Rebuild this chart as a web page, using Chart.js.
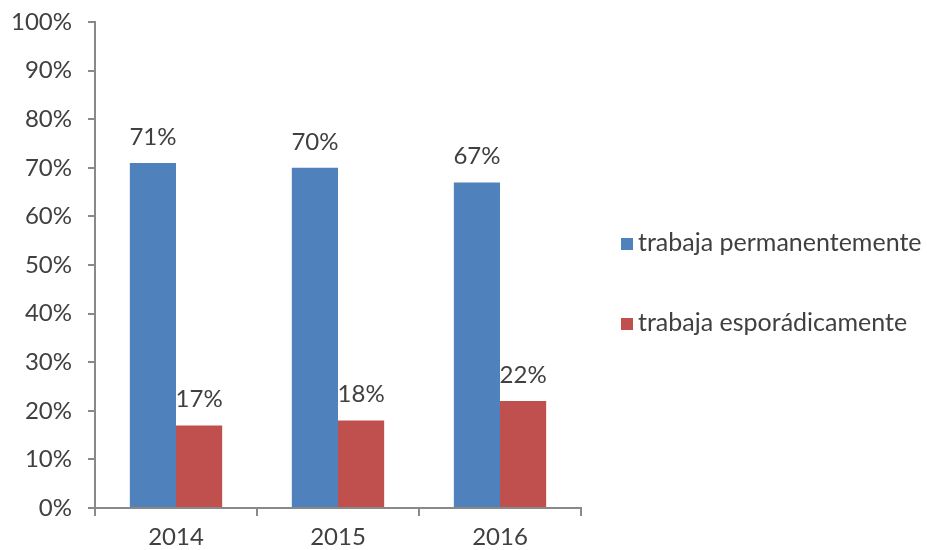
<!DOCTYPE html>
<html>
<head>
<meta charset="utf-8">
<script src="https://cdn.jsdelivr.net/npm/chart.js@4"></script>
<style>
  html, body { margin: 0; padding: 0; background: #fff; }
  #wrap { position: relative; width: 927px; height: 550px; }
  .legend { position: absolute; left: 621px; font: 25px Lato; color: #404040; white-space: nowrap; }
  .legend span.box { display: inline-block; width: 12px; height: 12px; margin-right: 5px; vertical-align: 1px; }
</style>
</head>
<body>
<div id="wrap">
  <canvas id="chart"></canvas>
  <div class="legend" id="leg0" style="top:226px"></div>
  <div class="legend" id="leg1" style="top:306px"></div>
</div>
<script>
const years = ['2014', '2015', '2016'];
const permanente = [71, 70, 67];
const esporadico = [17, 18, 22];
const seriesNames = ['trabaja permanentemente', 'trabaja esporádicamente'];
const seriesColors = ['#4f81bd', '#c0504d'];

const textColor = '#404040';
const axisColor = '#898989';
const fontSize = 24;

// draws the percent value above each bar
const valueLabels = {
    id: 'valueLabels',
    afterDatasetsDraw(chart) {
        const ctx = chart.ctx;
        ctx.save();
        ctx.font = fontSize + 'px Lato';
        ctx.fillStyle = textColor;
        ctx.textAlign = 'center';
        ctx.textBaseline = 'middle';
        chart.data.datasets.forEach((ds, i) => {
            chart.getDatasetMeta(i).data.forEach((bar, j) => {
                ctx.fillText(ds.data[j] + '%', bar.x, bar.y - 26);
            });
        });
        ctx.restore();
    }
};

const chart = new Chart(document.getElementById('chart'), {
    type: 'bar',
    data: {
        labels: years,
        datasets: [
            { label: seriesNames[0], data: permanente, backgroundColor: seriesColors[0] },
            { label: seriesNames[1], data: esporadico, backgroundColor: seriesColors[1] }
        ]
    },
    options: {
        responsive: true,
        maintainAspectRatio: false,
        animation: false,
        layout: { padding: { left: 12, top: 22, right: 346, bottom: 0 } },
        datasets: { bar: { categoryPercentage: 0.57, barPercentage: 1 } },
        scales: {
            x: {
                afterFit: scale => { scale.height = 42; },
                grid: { drawOnChartArea: false, drawTicks: true, tickLength: 8, color: axisColor, lineWidth: 2 },
                border: { color: axisColor, width: 2 },
                ticks: { color: textColor, font: { family: 'Lato', size: fontSize }, padding: 7 }
            },
            y: {
                min: 0,
                max: 100,
                afterFit: scale => {
                    scale.width = 83;
                    scale.paddingTop = 0;
                    scale.paddingBottom = 0;
                },
                grid: { drawOnChartArea: false, drawTicks: true, tickLength: 7, color: axisColor, lineWidth: 2 },
                border: { color: axisColor, width: 2 },
                ticks: {
                    stepSize: 10,
                    color: textColor,
                    font: { family: 'Lato', size: fontSize },
                    padding: 16,
                    callback: v => v + '%'
                }
            }
        },
        plugins: {
            legend: { display: false },
            tooltip: { enabled: false }
        }
    },
    plugins: [valueLabels]
});

// legend as plain html next to the plot
chart.data.datasets.forEach((ds, i) => {
    const el = document.getElementById('leg' + i);
    const box = document.createElement('span');
    box.className = 'box';
    box.style.background = ds.backgroundColor;
    el.appendChild(box);
    el.appendChild(document.createTextNode(ds.label));
});
</script>
</body>
</html>
